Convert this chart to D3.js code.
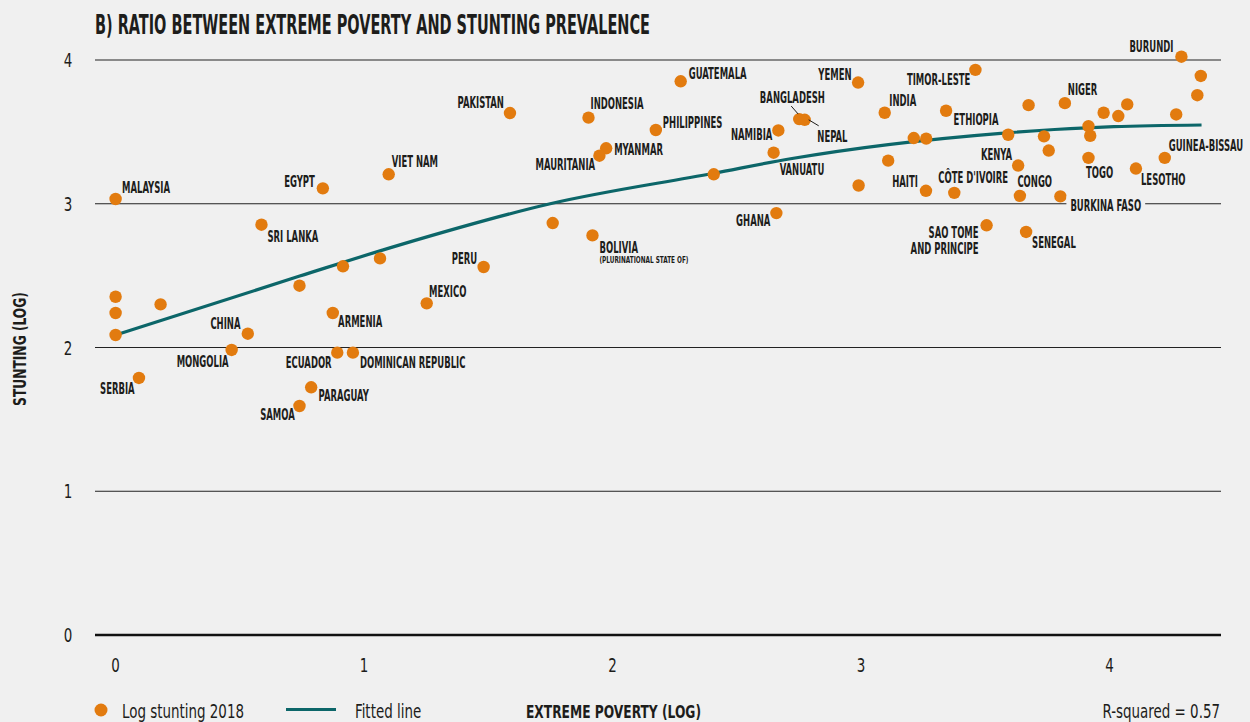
<!DOCTYPE html>
<html><head><meta charset="utf-8">
<script src="https://cdn.jsdelivr.net/npm/d3@7"></script>
<style>
html,body{margin:0;padding:0;background:#f0f0f0;}
svg{display:block;}
text{font-family:"Liberation Sans Narrow","Arial Narrow","DejaVu Sans Condensed",sans-serif;fill:#1d1d1b;}
</style></head><body>
<svg id="chart" width="1250" height="722"></svg>
<script>
// ---------- DATA ----------
const countries = [
  "MALAYSIA","","","","","SERBIA","CHINA","MONGOLIA","SRI LANKA","",
  "EGYPT","VIET NAM","","","ARMENIA","ECUADOR","DOMINICAN REPUBLIC","PARAGUAY","SAMOA","MEXICO",
  "PERU","PAKISTAN","INDONESIA","MYANMAR","MAURITANIA","","BOLIVIA","PHILIPPINES","GUATEMALA","",
  "GHANA","NAMIBIA","VANUATU","BANGLADESH","NEPAL","YEMEN","","INDIA","","TIMOR-LESTE",
  "ETHIOPIA","","","HAITI","CÔTE D'IVOIRE","","","KENYA","CONGO","SAO TOME AND PRINCIPE",
  "SENEGAL","","","NIGER","BURKINA FASO","","","TOGO","","",
  "","LESOTHO","GUINEA-BISSAU","","BURUNDI","",""
];
const povertyLog = [
  0, 0, 0, 0, 0.181, 0.094, 0.532, 0.467, 0.587, 0.740,
  0.834, 1.099, 0.915, 1.064, 0.874, 0.892, 0.955, 0.787, 0.740, 1.252,
  1.481, 1.587, 1.903, 1.974, 1.947, 1.759, 1.919, 2.174, 2.274, 2.407,
  2.659, 2.667, 2.648, 2.751, 2.773, 2.988, 2.990, 3.095, 3.109, 3.460,
  3.342, 3.212, 3.262, 3.261, 3.375, 3.592, 3.674, 3.632, 3.639, 3.505,
  3.664, 3.736, 3.755, 3.820, 3.802, 3.915, 3.922, 3.915, 3.976, 4.035,
  4.071, 4.106, 4.222, 4.268, 4.289, 4.367, 4.353
];
const stuntingLog = [
  3.033, 2.353, 2.240, 2.087, 2.300, 1.788, 2.096, 1.983, 2.854, 2.430,
  3.107, 3.205, 2.565, 2.620, 2.240, 1.964, 1.964, 1.723, 1.593, 2.307,
  2.560, 3.631, 3.599, 3.386, 3.334, 2.866, 2.780, 3.513, 3.852, 3.205,
  2.935, 3.510, 3.355, 3.589, 3.584, 3.843, 3.127, 3.633, 3.300, 3.931,
  3.647, 3.457, 3.453, 3.090, 3.076, 3.480, 3.686, 3.266, 3.055, 2.850,
  2.804, 3.469, 3.370, 3.700, 3.051, 3.540, 3.473, 3.319, 3.633, 3.610,
  3.691, 3.245, 3.319, 3.621, 4.023, 3.889, 3.755
];
const fitX = [0, 0.741, 1.144, 1.749, 2.407, 2.716, 3.562, 4.017, 4.370];
const fitY = [2.087, 2.497, 2.714, 3.000, 3.212, 3.313, 3.490, 3.536, 3.548];
const xTicks = [0, 1, 2, 3, 4];
const yTicks = [0, 1, 2, 3, 4];
const titleText = "B) RATIO BETWEEN EXTREME POVERTY AND STUNTING PREVALENCE";
const xAxisTitle = "EXTREME POVERTY (LOG)";
const yAxisTitle = "STUNTING (LOG)";
const legendDots = "Log stunting 2018";
const legendLine = "Fitted line";
const rSquaredText = "R-squared = 0.57";

// ---------- LAYOUT (label placement relative to its dot) ----------
const labelLayout = {
  "MALAYSIA":["start",6.4,-5.7], "SERBIA":["end",-4.3,16.3], "CHINA":["end",-7.3,-4.4],
  "MONGOLIA":["end",-3,16.8], "SRI LANKA":["start",6,17.6], "EGYPT":["end",-8,-1.7],
  "VIET NAM":["start",3,-7], "ARMENIA":["start",5.3,13.7], "ECUADOR":["end",-5.6,15.6],
  "DOMINICAN REPUBLIC":["start",7,15.6], "PARAGUAY":["start",7.4,13.7], "SAMOA":["end",-4.7,14],
  "MEXICO":["start",2.3,-6.7], "PERU":["end",-6.4,-3], "PAKISTAN":["end",-6,-5],
  "INDONESIA":["start",2,-8.3], "MYANMAR":["start",8,6.7], "MAURITANIA":["end",-4.3,14],
  "BOLIVIA":["start",7,18], "PHILIPPINES":["start",7,-2.3], "GUATEMALA":["start",8,-2],
  "NAMIBIA":["end",-6,10], "VANUATU":["start",6,22], "GHANA":["end",-6,12.6],
  "BANGLADESH":["end",25.7,-15.8], "NEPAL":["start",12.6,22], "YEMEN":["end",-6.5,-3],
  "INDIA":["start",4.6,-7], "TIMOR-LESTE":["end",-5,15], "ETHIOPIA":["start",7.5,14],
  "HAITI":["end",-8,-3.5], "CÔTE D'IVOIRE":["start",-16,-9.5], "KENYA":["end",-6,-5.5],
  "CONGO":["start",-2.5,-9], "BURKINA FASO":["start",10,14.6],
  "SAO TOME AND PRINCIPE":["end",-8,13], "SENEGAL":["start",6,16], "NIGER":["start",3,-8],
  "TOGO":["start",-2.4,20], "LESOTHO":["start",5,16.5], "GUINEA-BISSAU":["start",4,-7],
  "BURUNDI":["end",-8,-5]
};
const multiLine = {"SAO TOME AND PRINCIPE":["SAO TOME","AND PRINCIPE"]};
const subLabel = {"BOLIVIA":"(PLURINATIONAL STATE OF)"};
const knockout = {"BURKINA FASO":true};
const leaders = {"BANGLADESH":[-8,-13,-1,-5], "NEPAL":[4,0,14,6]};

const W = 1250, H = 722;
const BG = "#f0f0f0", ORANGE = "#e27b0f", TEAL = "#0c6669", INK = "#1d1d1b";
const svg = d3.select("#chart");
svg.append("rect").attr("width",W).attr("height",H).attr("fill",BG);

const x = d3.scaleLinear().domain([0,4]).range([115.6,1109.6]);
const y = d3.scaleLinear().domain([0,4]).range([635,60]);
const gridX0 = 95, gridX1 = 1221;

// squeeze helper: emulate the condensed face by compressing text horizontally
function measure(str, size, weight){
  const t = svg.append("text").attr("font-size",size).attr("font-weight",weight).text(str);
  const w = t.node().getComputedTextLength(); t.remove(); return w;
}
function squeeze(sel, k){
  sel.each(function(){
    const w = this.getComputedTextLength();
    this.setAttribute("textLength", w*k);
    this.setAttribute("lengthAdjust","spacingAndGlyphs");
  });
}
const kLabel = 48 / measure("MALAYSIA", 15, "bold");
const kSub = 89 / measure("(PLURINATIONAL STATE OF)", 9.5, "bold");
const kTitle = 555 / measure(titleText, 27, "bold");
const kReg = 122 / measure(legendDots, 19, "normal");
const kAxis = 175 / measure(xAxisTitle, 18, "bold");

// title
svg.append("text").attr("x",95).attr("y",34).attr("font-size",27).attr("font-weight","bold")
  .text(titleText).call(squeeze,kTitle);

// gridlines
const grid = svg.append("g");
grid.selectAll("line").data(yTicks).join("line")
  .attr("x1",gridX0).attr("x2",gridX1)
  .attr("y1",d=>y(d)).attr("y2",d=>y(d))
  .attr("stroke", d=> d===0 ? "#111" : "#222")
  .attr("stroke-width", d=> d===0 ? 2.5 : 1);

// y tick labels
svg.append("g").selectAll("text").data(yTicks).join("text")
  .attr("x",68).attr("y",d=>y(d)+7).attr("text-anchor","middle")
  .attr("font-size",19).text(d=>d).call(squeeze,kReg);
// x tick labels
svg.append("g").selectAll("text").data(xTicks).join("text")
  .attr("x",d=>x(d)).attr("y",672).attr("text-anchor","middle")
  .attr("font-size",19).text(d=>d).call(squeeze,kReg);

// axis titles
svg.append("text").attr("transform","translate(26,349) rotate(-90)")
  .attr("text-anchor","middle").attr("font-size",18).attr("font-weight","bold")
  .text(yAxisTitle).call(squeeze,kAxis);
svg.append("text").attr("x",526).attr("y",718).attr("font-size",18).attr("font-weight","bold")
  .text(xAxisTitle).call(squeeze,kAxis);

// fitted line
const fitData = fitX.map((v,i)=>[v,fitY[i]]);
svg.append("path").datum(fitData)
  .attr("d", d3.line().x(d=>x(d[0])).y(d=>y(d[1])).curve(d3.curveMonotoneX))
  .attr("fill","none").attr("stroke",TEAL).attr("stroke-width",3.2);

// points
const pts = countries.map((c,i)=>({name:c, px:povertyLog[i], sy:stuntingLog[i]}));
svg.append("g").selectAll("circle").data(pts).join("circle")
  .attr("cx",d=>x(d.px)).attr("cy",d=>y(d.sy)).attr("r",6.2).attr("fill",ORANGE);

// labels
const lab = svg.append("g");
pts.filter(d=>d.name && labelLayout[d.name]).forEach(d=>{
  const [anchor,dx,dy] = labelLayout[d.name];
  const cx = x(d.px), cy = y(d.sy);
  if(leaders[d.name]){
    const l = leaders[d.name];
    lab.append("line").attr("x1",cx+l[0]).attr("y1",cy+l[1]).attr("x2",cx+l[2]).attr("y2",cy+l[3])
      .attr("stroke",INK).attr("stroke-width",1);
  }
  const lines = multiLine[d.name] || [d.name];
  const g = lab.append("g");
  lines.forEach((ln,j)=>{
    g.append("text").attr("x",cx+dx).attr("y",cy+dy+j*16).attr("text-anchor",anchor)
      .attr("font-size",15).attr("font-weight","bold").text(ln).call(squeeze,kLabel);
  });
  if(subLabel[d.name]){
    g.append("text").attr("x",cx+dx).attr("y",cy+dy+10).attr("text-anchor",anchor)
      .attr("font-size",9.5).attr("font-weight","bold").text(subLabel[d.name]).call(squeeze,kSub);
  }
  if(knockout[d.name]){
    const bb = g.node().getBBox();
    g.insert("rect","text").attr("x",bb.x-4).attr("y",bb.y-1).attr("width",bb.width+8)
      .attr("height",bb.height+2).attr("fill",BG);
  }
});

// legend
svg.append("circle").attr("cx",101).attr("cy",710).attr("r",6.5).attr("fill",ORANGE);
svg.append("text").attr("x",122).attr("y",718).attr("font-size",19).text(legendDots).call(squeeze,kReg);
svg.append("line").attr("x1",286).attr("x2",336).attr("y1",709.5).attr("y2",709.5)
  .attr("stroke",TEAL).attr("stroke-width",3.2);
svg.append("text").attr("x",355).attr("y",718).attr("font-size",19).text(legendLine).call(squeeze,kReg);
svg.append("text").attr("x",1220).attr("y",718).attr("text-anchor","end").attr("font-size",19)
  .text(rSquaredText).call(squeeze,kReg);
</script>
</body></html>
